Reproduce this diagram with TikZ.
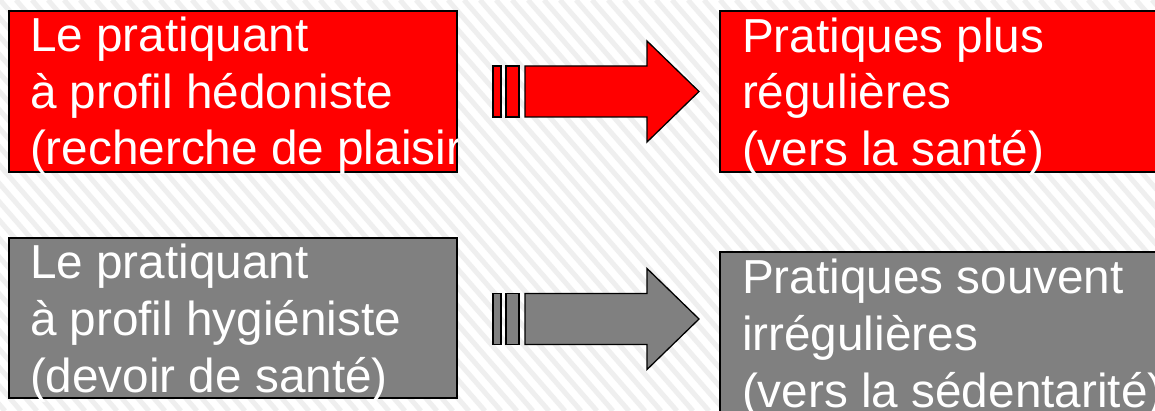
\documentclass[tikz,border=0pt]{standalone}
\usepackage{fontspec}
\setmainfont{Liberation Sans}
\usetikzlibrary{calc}

\definecolor{stripegray}{HTML}{EFEFEF}
\definecolor{boxred}{HTML}{FF0000}
\definecolor{boxgray}{HTML}{808080}

\tikzset{
  panel/.style={draw=black, line width=1.3pt, inner sep=0pt, outer sep=0pt,
                anchor=north west, rectangle},
  line/.style={anchor=base west, inner sep=0pt, outer sep=0pt, text=white,
               font=\fontsize{47.7}{56}\selectfont},
  stripe/.style={stripegray, line width=5pt},
  arrowpart/.style={draw=black, line width=1.3pt, line join=miter},
  blockarrow/.pic={
    \path[arrowpart, pic actions] (0,-25.5) rectangle (8,25.5);
    \path[arrowpart, pic actions] (13,-25.5) rectangle (26,25.5);
    \path[arrowpart, pic actions] (32,-25.5) -- (154,-25.5) -- (154,-50.5)
      -- (206,0) -- (154,50.5) -- (154,25.5) -- (32,25.5) -- cycle;
  }
}

\begin{document}
\begin{tikzpicture}[x=1pt, y=-1pt]
  \useasboundingbox (0,0) rectangle (1155,411);
  \clip (0,0) rectangle (1155,411);

  % hatched background
  \fill[white] (0,0) rectangle (1155,411);
  \foreach \x in {-400,-384,...,1170}
    \draw[stripe] (\x,0) -- ++(357,411);

  % panels
  \node[panel, fill=boxred, minimum width=448pt, minimum height=161pt] (b1) at (9,11) {};
  \node[panel, fill=boxred, minimum width=460pt, minimum height=161pt] (b2) at (720,11) {};
  \node[panel, fill=boxgray, minimum width=448pt, minimum height=160pt] (b3) at (9,238) {};
  \node[panel, fill=boxgray, minimum width=460pt, minimum height=180pt] (b4) at (720,252) {};

  % panel texts
  \begin{scope}
    \clip (9,0) rectangle (457,411);
    \node[line] (t11) at (30,52) {Le pratiquant};
    \node[line] (t12) at (30,108.5) {à profil hédoniste};
    \node[line] (t13) at (30,165) {(recherche de plaisir)};
  \end{scope}
  \node[line] (t21) at (742,52.5) {Pratiques plus};
  \node[line] (t22) at (742,109) {régulières};
  \node[line] (t23) at (742,165.5) {(vers la santé)};

  \node[line] (t31) at (30,279) {Le pratiquant};
  \node[line] (t32) at (30,335.5) {à profil hygiéniste};
  \node[line] (t33) at (30,392) {(devoir de santé)};
  \node[line] (t41) at (742,294) {Pratiques souvent};
  \node[line] (t42) at (742,350.5) {irrégulières};
  \node[line] (t43) at (742,407) {(vers la sédentarité)};

  % block arrows between the panels
  \pic[fill=boxred] at ($(b1.east)+(36,0)$) {blockarrow};
  \pic[fill=boxgray] at ($(b3.east)+(36,1)$) {blockarrow};
\end{tikzpicture}
\end{document}
